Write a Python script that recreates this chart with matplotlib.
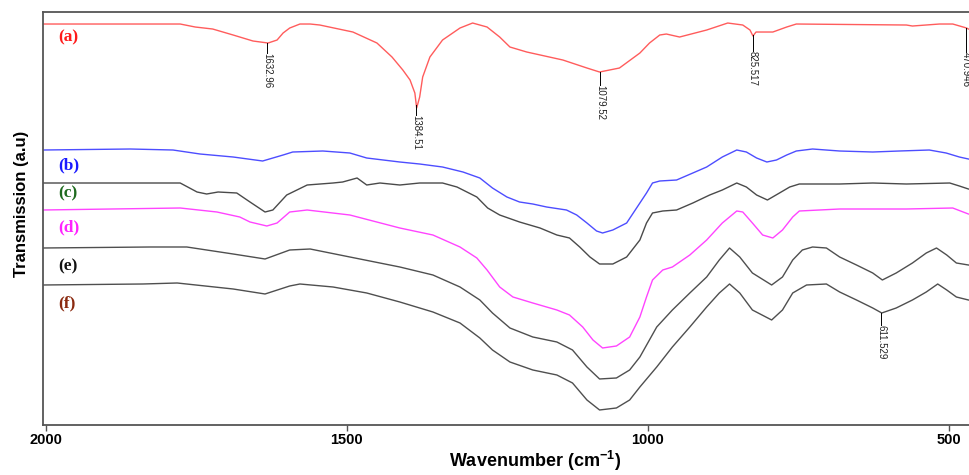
import numpy as np
import matplotlib
matplotlib.use("Agg")
import matplotlib.pyplot as plt

plt.rcParams['mathtext.fontset'] = 'custom'
plt.rcParams['mathtext.rm'] = 'Liberation Sans:bold'
plt.rcParams['mathtext.bf'] = 'Liberation Sans:bold'

# FTIR spectra: wavenumber (cm-1) and transmission (arbitrary units, already offset)
wn_a = [2005, 1777, 1752, 1723, 1689, 1656, 1631, 1616, 1606, 1595, 1578, 1561, 1545,
        1490, 1450, 1425, 1407, 1395, 1387, 1384, 1379, 1374, 1362, 1341, 1312, 1291,
        1267, 1246, 1229, 1201, 1141, 1101, 1080, 1047, 1013, 997, 980, 969, 947, 902,
        867, 842, 830, 825, 820, 792, 769, 753, 570, 560, 515, 493, 470, 467]
t_a = [401, 401, 398, 396, 390, 384, 382, 385, 392, 397, 401, 401, 400,
       393, 382, 368, 355, 345, 332, 317, 328, 348, 368, 385, 397, 402,
       398, 388, 378, 373, 365, 357, 353, 357, 372, 382, 390, 391, 388, 395,
       402, 400, 395, 389, 393, 393, 398, 401, 400, 399, 401, 401, 397, 396]

wn_b = [2005, 1860, 1789, 1744, 1689, 1640, 1606, 1590, 1540, 1495, 1467, 1412, 1379,
        1341, 1307, 1279, 1258, 1234, 1213, 1191, 1168, 1135, 1118, 1101, 1085, 1075,
        1058, 1035, 1013, 1002, 992, 980, 952, 925, 902, 876, 852, 836, 819, 802, 786,
        769, 753, 726, 681, 626, 582, 532, 504, 482, 467]
t_b = [275, 276, 275, 271, 268, 264, 270, 273, 274, 272, 267, 263, 261,
       258, 253, 247, 237, 228, 223, 221, 218, 215, 210, 202, 194, 192,
       195, 202, 222, 232, 242, 244, 245, 252, 258, 268, 275, 273, 267, 263, 265,
       270, 274, 276, 274, 273, 274, 275, 272, 268, 266]

wn_c = [2005, 1777, 1749, 1733, 1714, 1683, 1661, 1636, 1623, 1600, 1566, 1523, 1507,
        1483, 1467, 1445, 1412, 1379, 1341, 1317, 1284, 1266, 1246, 1213, 1179, 1151,
        1130, 1113, 1096, 1080, 1058, 1035, 1013, 1002, 992, 975, 952, 925, 897, 876,
        852, 836, 819, 801, 781, 764, 748, 681, 626, 570, 498, 482, 467]
t_c = [242, 242, 233, 231, 233, 232, 223, 213, 215, 230, 240, 242, 243,
       247, 240, 242, 240, 242, 242, 238, 228, 217, 210, 203, 197, 190,
       187, 178, 168, 161, 161, 168, 185, 202, 212, 214, 215, 222, 230, 235,
       242, 238, 230, 225, 232, 238, 241, 241, 242, 241, 242, 239, 236]

wn_d = [2005, 1777, 1716, 1678, 1661, 1633, 1616, 1595, 1566, 1495, 1412, 1357, 1312,
        1284, 1267, 1246, 1224, 1191, 1151, 1130, 1108, 1091, 1075, 1052, 1030, 1013,
        1002, 992, 975, 959, 930, 902, 876, 852, 842, 826, 809, 792, 776, 759, 748, 681,
        626, 570, 493, 467]
t_d = [215, 217, 213, 208, 203, 199, 202, 213, 215, 210, 197, 190, 178,
       167, 155, 138, 128, 122, 115, 110, 98, 85, 77, 79, 88, 108,
       128, 145, 155, 158, 170, 185, 202, 214, 213, 202, 190, 187, 195, 208, 214, 216,
       216, 216, 217, 211]

wn_e = [2005, 1827, 1766, 1689, 1636, 1595, 1561, 1495, 1412, 1357, 1312, 1279, 1258,
        1229, 1191, 1151, 1125, 1101, 1080, 1052, 1030, 1013, 985, 959, 930, 902, 881,
        864, 847, 826, 794, 776, 759, 743, 726, 703, 681, 653, 626, 610, 587, 560, 537,
        520, 503, 487, 467]
t_e = [177, 178, 178, 171, 166, 175, 176, 168, 158, 150, 138, 125, 112,
       97, 88, 83, 75, 58, 46, 47, 55, 68, 98, 115, 132, 148, 165,
       177, 168, 152, 140, 148, 165, 175, 178, 177, 168, 160, 152, 145, 152, 162, 172,
       177, 170, 162, 160]

wn_f = [2005, 1839, 1782, 1689, 1636, 1595, 1578, 1523, 1467, 1412, 1357, 1312, 1279,
        1258, 1229, 1191, 1151, 1125, 1101, 1080, 1052, 1030, 1013, 985, 959, 930, 902,
        881, 864, 847, 826, 794, 776, 759, 736, 703, 681, 653, 626, 611, 587, 560, 537,
        518, 503, 487, 467]
t_f = [140, 141, 142, 136, 131, 139, 141, 138, 132, 123, 113, 102, 87,
       75, 63, 55, 50, 42, 25, 15, 17, 25, 38, 58, 78, 98, 118,
       132, 141, 132, 115, 105, 115, 132, 140, 141, 133, 125, 117, 112, 117, 125, 133,
       141, 135, 128, 125]

labels = ['(a)', '(b)', '(c)', '(d)', '(e)', '(f)']
line_colors = ['#ff5c5c', '#4d4dff', '#4a4a4a', '#ff44ff', '#4f4f4f', '#4f4f4f']
label_colors = ['#ff1a1a', '#1a1aff', '#1f6b1f', '#ff22ff', '#111111', '#8b2a10']
label_y = [388, 260, 232, 198, 159, 122]

# peak annotations
peaks_a = [1632.96, 1384.51, 1079.52, 825.517, 470.946]
peak_a_text = ['1632.96', '1384.51', '1079.52', '825.517', '470.946']
peak_a_len = [10, 10, 13, 16, 24]
peaks_f = [611.529]
peak_f_text = ['611.529']
peak_f_len = [12]

fig = plt.figure(figsize=(9.69, 4.75), dpi=100)
ax = fig.add_axes([0.0444, 0.1053, 0.9556, 0.8694])

spectra = [(wn_a, t_a), (wn_b, t_b), (wn_c, t_c), (wn_d, t_d), (wn_e, t_e), (wn_f, t_f)]
for (w, t), c in zip(spectra, line_colors):
    ax.plot(w, t, color=c, lw=1.0)

for lab, c, y in zip(labels, label_colors, label_y):
    ax.text(1980, y, lab, color=c, fontsize=12.5, fontweight='bold',
            family='Liberation Serif', ha='left', va='center')

def mark_peaks(w, t, peaks, texts, lens):
    for p, s, L in zip(peaks, texts, lens):
        y0 = np.interp(p, w[::-1], t[::-1])
        ax.plot([p, p], [y0, y0 - L], color='black', lw=0.7)
        ax.text(p, y0 - L, s, rotation=270, ha='center', va='top', fontsize=7,
                family='Liberation Sans', color='#222222')

mark_peaks(wn_a, t_a, peaks_a, peak_a_text, peak_a_len)
mark_peaks(wn_f, t_f, peaks_f, peak_f_text, peak_f_len)

ax.set_xlim(2005, 466)
ax.set_ylim(0, 413)
ax.set_xticks([2000, 1500, 1000, 500])
ax.set_yticks([])
ax.tick_params(axis='x', direction='out', length=4, width=1, color='#555555', pad=2)
for tl in ax.get_xticklabels():
    tl.set_family('Liberation Sans')
    tl.set_fontweight('bold')
    tl.set_fontsize(10.5)

for side in ['left', 'top', 'bottom']:
    ax.spines[side].set_color('#555555')
    ax.spines[side].set_linewidth(1.3)
ax.spines['right'].set_visible(False)

ax.set_xlabel(r'Wavenumber (cm$^{-1}$)', fontsize=13, fontweight='bold',
              family='Liberation Sans')
ax.xaxis.set_label_coords(0.531, -0.058)
ax.set_ylabel('Transmission (a.u)', fontsize=12, fontweight='bold',
              family='Liberation Sans')
ax.yaxis.set_label_coords(-0.015, 0.535)

fig.savefig('out.png', dpi=100)
